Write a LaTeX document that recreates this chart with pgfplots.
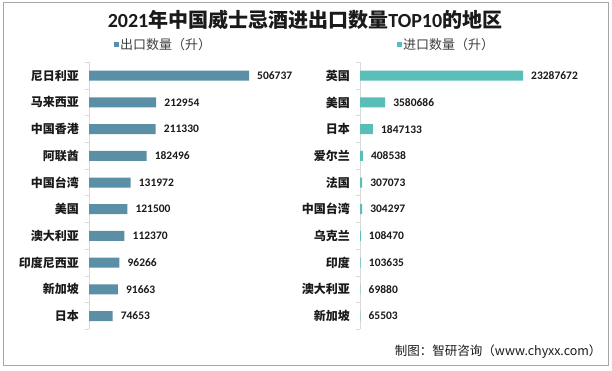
\documentclass[border=0pt]{standalone}
\usepackage{fontspec}
\usepackage{pgfplots}
\usepackage{pgfplotstable}
\pgfplotsset{compat=1.18}
\setmainfont{Noto Sans CJK SC}
\newfontfamily\cjk{Noto Sans CJK SC}
\newfontfamily\carlito{Carlito}
\definecolor{expc}{HTML}{5B8FA6}
\definecolor{impc}{HTML}{5ABEB8}
\definecolor{axgray}{HTML}{D9D9D9}
\definecolor{framec}{HTML}{A6A6A6}
\definecolor{txt}{HTML}{1A1A1A}
\definecolor{legtxt}{HTML}{404040}

\pgfplotstableread{
i v
0 506737
1 212954
2 211330
3 182496
4 131972
5 121500
6 112370
7 96266
8 91663
9 74653
}\exportdata

\pgfplotstableread{
i v
0 23287672
1 3580686
2 1847133
3 408538
4 307073
5 304297
6 108470
7 103635
8 69880
9 65503
}\importdata

\pgfplotsset{
  halfbar/.style={
    scale only axis, height=267pt,
    xmin=0, ymin=-0.5, ymax=9.5, y dir=reverse,
    clip=false,
    axis x line=none,
    axis y line*=left,
    y axis line style={-, draw=axgray, line width=0.8pt},
    ytick={0,...,9},
    major tick length=0pt,
    minor ytick={-0.5,0.5,...,9.5},
    minor tick length=4pt,
    tick align=outside,
    minor y tick style={draw=axgray, line width=0.8pt},
    major y tick style={draw=none},
    yticklabel style={font=\cjk\bfseries\fontsize{12}{12}\selectfont, text=txt, inner sep=0pt, anchor=east, xshift=-10pt},
    legend style={draw=none, fill=none, inner sep=0pt, text=legtxt, anchor=west,
      font=\cjk\fontsize{13}{13}\selectfont,
      nodes={inner sep=1pt, font=\cjk\fontsize{13}{13}\selectfont}},
  },
  halfplot/.style={
    xbar, bar width=10pt, draw=none,
    nodes near coords, point meta=explicit symbolic,
    nodes near coords align=horizontal,
    nodes near coords style={font=\carlito\bfseries\fontsize{11.5}{12}\selectfont, text=txt, inner sep=0pt, anchor=west, xshift=8pt},
  },
}

\begin{document}
\begin{tikzpicture}
\useasboundingbox (0,0) rectangle (612pt,371pt);
\fill[white] (0,0) rectangle (612pt,371pt);
\draw[framec, line width=1pt] (3.5pt,5pt) rectangle (608pt,368pt);

\node[font=\cjk\bfseries\fontsize{20}{20}\selectfont, text=txt] at (305pt,351pt)
  {{\carlito\bfseries 2021}年中国威士忌酒进出口数量{\carlito\bfseries TOP10}的地区};

\begin{axis}[halfbar,
  at={(89pt,41.6pt)}, anchor=south west,
  width=200pt, xmax=633421,
  yticklabels={尼日利亚,马来西亚,中国香港,阿联酋,中国台湾,美国,澳大利亚,印度尼西亚,新加坡,日本},
  legend style={at={(0.125,1.066)}},
  legend image code/.code={\fill[expc] (0pt,-2.5pt) rectangle (5pt,2.5pt);},
]
\addplot[halfplot, fill=expc] table[x=v, y=i, meta=v] {\exportdata};
\addlegendentry{出口数量（升）}
\end{axis}

\begin{axis}[halfbar,
  at={(360pt,41.6pt)}, anchor=south west,
  width=220pt, xmax=31431224,
  yticklabels={英国,美国,日本,爱尔兰,法国,中国台湾,乌克兰,印度,澳大利亚,新加坡},
  legend style={at={(0.168,1.066)}},
  legend image code/.code={\fill[impc] (0pt,-2.5pt) rectangle (5pt,2.5pt);},
]
\addplot[halfplot, fill=impc] table[x=v, y=i, meta=v] {\importdata};
\addlegendentry{进口数量（升）}
\end{axis}

\node[font=\cjk\fontsize{12.5}{13}\selectfont, text=txt, anchor=east] at (605pt,19pt)
  {制图：智研咨询（www.chyxx.com）};
\end{tikzpicture}
\end{document}
